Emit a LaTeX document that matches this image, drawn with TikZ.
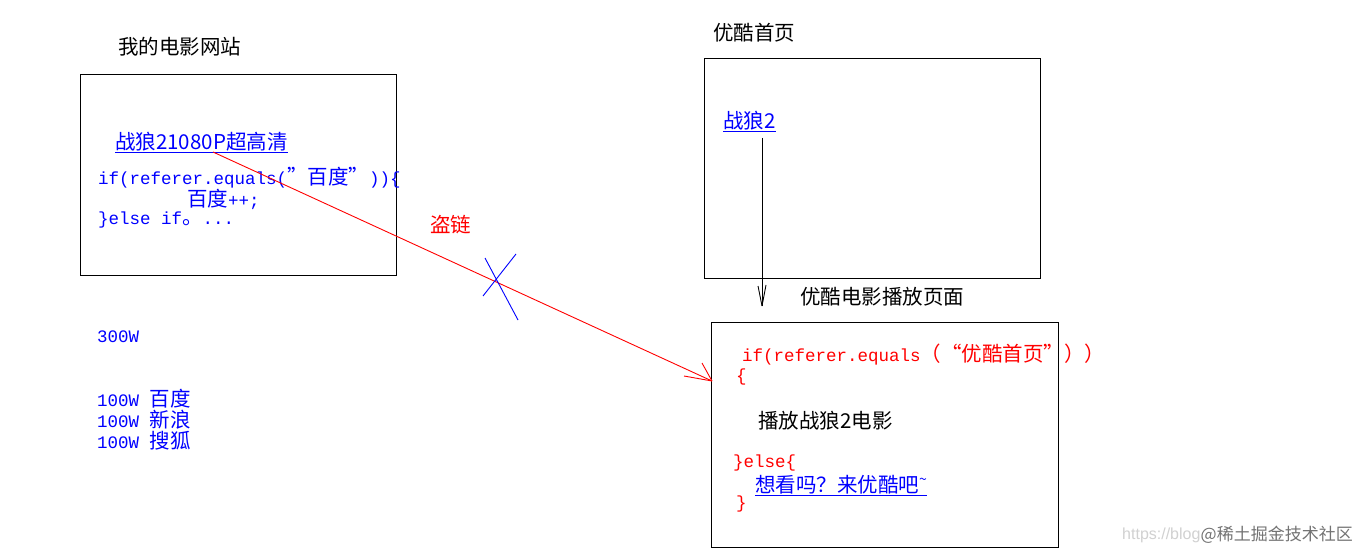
\documentclass[tikz,border=0pt]{standalone}
\usepackage{fontspec}
\usetikzlibrary{calc}
\setmainfont{Liberation Serif}
\setmonofont{Liberation Mono}
\newfontfamily\cjk{Noto Sans CJK SC}
\newcommand\mn{\fontsize{17.5}{20}\selectfont\ttfamily}
\newcommand\cj[1]{{\cjk\fontsize{20.5}{20}\selectfont #1}}
\begin{document}
\begin{tikzpicture}[x=1pt,y=-1pt,
  box/.style={draw=black,line width=1pt,inner sep=0pt},
  lbl/.style={anchor=west,inner sep=0pt,font=\cjk\fontsize{20.5}{20}\selectfont},
  code/.style={anchor=west,inner sep=0pt,font=\mn},
  thin/.style={line width=0.9pt}]
\useasboundingbox[fill=white] (0,0) rectangle (1360,553);
% boxes
\node[box,minimum width=316pt,minimum height=201pt] (b1) at (238,175.5) {};
\node[box,minimum width=336pt,minimum height=220pt] (b2) at (872,169) {};
\node[box,minimum width=347pt,minimum height=224pt] (b3) at (884.5,435) {};
% titles
\node[lbl] (t1) at (118,47) {我的电影网站};
\node[lbl] (t2) at (713,33) {优酷首页};
\node[lbl] (t3) at (800,297) {优酷电影播放页面};
% left box content
\node[lbl,text=blue] (l1) at (115,142) {战狼21080P超高清};
\draw[blue,thin] ([yshift=-1pt]l1.south west) -- ([yshift=-1pt]l1.south east);
\node[code,text=blue] (c1) at (98,178) {if(referer.equals(\cj{”百度”}))\{};
\node[code,text=blue] (c2) at (187,199) {\cj{百度}++;};
\node[code,text=blue] (c3) at (98,220) {\}else if\cj{。}...};
% left stats
\node[code,text=blue] (s0) at (97,337) {300W};
\node[code,text=blue] (s1) at (97,399) {100W \cj{百度}};
\node[code,text=blue] (s2) at (97,420) {100W \cj{新浪}};
\node[code,text=blue] (s3) at (97,441) {100W \cj{搜狐}};
% right top content
\node[lbl,text=blue] (l2) at (723,121) {战狼2};
\draw[blue,thin] ([yshift=-1pt]l2.south west) -- ([yshift=-1pt]l2.south east);
% right bottom content
\node[code,text=red] (r1) at (742,355) {if(referer.equals\cj{（“优酷首页”））}};
\node[code,text=red] (r2) at (736,377) {\{};
\node[lbl] (r3) at (758,421) {播放战狼2电影};
\node[code,text=red] (r4) at (733,463) {\}else\{};
\node[lbl,text=blue] (r5) at (755,485) {想看吗？来优酷吧\raisebox{8pt}{\fontsize{14}{14}\selectfont\char"7E}};
\draw[blue,thin] ([yshift=-1pt]r5.south west) -- ([yshift=-1pt]r5.south east);
\node[code,text=red] (r6) at (736,504) {\}};
% hotlink label
\node[lbl,text=red] (h) at (430,225) {盗链};
% red arrow
\coordinate (rs) at (213,152);
\coordinate (re) at (712,381);
\draw[red,thin] (rs) -- (re);
\draw[red,thin] (re) -- ($(re)+(-28,-5)$);
\draw[red,thin] (re) -- ($(re)+(-10,-18)$);
% blue cross
\draw[blue,thin] (485,258) -- (518,320);
\draw[blue,thin] (483,296) -- (516,254);
% black arrow
\coordinate (bs) at (762,138);
\coordinate (be) at (762,306);
\draw[black,thin] (bs) -- (be);
\draw[black,thin] (be) -- ($(be)+(-4,-20)$);
\draw[black,thin] (be) -- ($(be)+(4,-21)$);
% watermark
\node[anchor=west,inner sep=0pt,text=black!18,font=\fontspec{Liberation Sans}\fontsize{16}{16}\selectfont] (w1) at (1122,535) {https://blog};
\node[anchor=east,inner sep=0pt,text=black!55,font=\cjk\fontsize{17}{17}\selectfont] (w2) at (1353,535) {@稀土掘金技术社区};
\end{tikzpicture}
\end{document}
